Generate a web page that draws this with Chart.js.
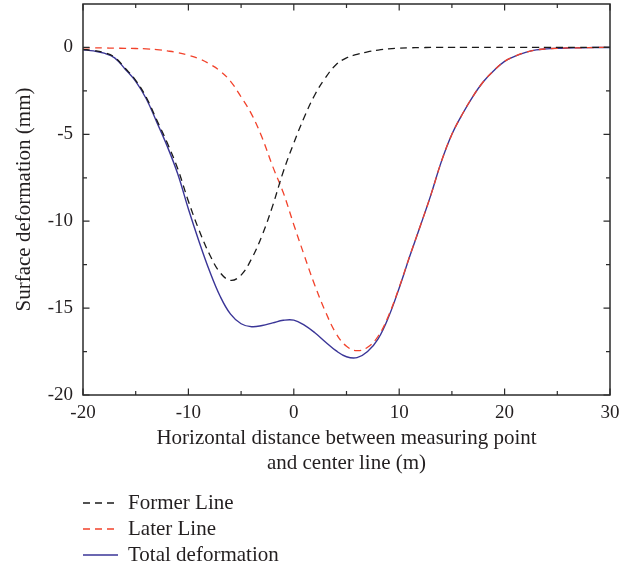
<!DOCTYPE html>
<html><head><meta charset="utf-8">
<script src="https://cdn.jsdelivr.net/npm/chart.js@4"></script>
<style>html,body{margin:0;padding:0;background:#fff}#wrap{width:634px;height:571px}</style>
</head><body><div id="wrap"><canvas id="c" width="634" height="571"></canvas></div>
<script>
const xValues = [-20,-19,-18,-17,-16,-15,-14,-13,-12,-11,-10,-9,-8,-7,-6,-5,-4,-3,-2,-1,0,1,2,3,4,5,6,7,8,9,10,11,12,13,14,15,16,17,18,19,20,21,22,23,24,25,26,27,28,29,30];
const formerLine = [-0.11,-0.18,-0.30,-0.56,-1.2,-1.89,-2.87,-4.18,-5.5,-7.0,-8.85,-10.5,-11.9,-12.95,-13.4,-13.1,-12.15,-10.8,-9.1,-7.15,-5.5,-4.0,-2.72,-1.75,-1.0,-0.6,-0.4,-0.25,-0.15,-0.08,-0.04,-0.02,-0.01,0,0,0,0,0,0,0,0,0,0,0,0,0,0,0,0,0,0];
const laterLine = [-0.02,-0.02,-0.03,-0.04,-0.05,-0.06,-0.08,-0.12,-0.2,-0.3,-0.45,-0.65,-0.95,-1.35,-1.95,-2.85,-3.85,-5.2,-6.85,-8.35,-10.2,-11.98,-13.7,-15.2,-16.45,-17.2,-17.45,-17.25,-16.62,-15.42,-13.8,-12.0,-10.27,-8.5,-6.57,-5.0,-3.83,-2.81,-1.96,-1.32,-0.8,-0.5,-0.28,-0.14,-0.08,-0.05,-0.03,-0.02,-0.01,0,0];
const totalDeformation = [-0.13,-0.2,-0.33,-0.6,-1.25,-1.95,-2.95,-4.3,-5.7,-7.3,-9.3,-11.15,-12.85,-14.3,-15.35,-15.9,-16.07,-16.0,-15.85,-15.7,-15.69,-15.98,-16.42,-16.95,-17.45,-17.8,-17.85,-17.5,-16.77,-15.5,-13.84,-12.02,-10.28,-8.5,-6.57,-5.0,-3.83,-2.81,-1.96,-1.32,-0.8,-0.5,-0.28,-0.14,-0.08,-0.05,-0.03,-0.02,-0.01,0,0];
const seriesNames = ['Former Line','Later Line','Total deformation'];
const xTickLabels = [-20,-10,0,10,20,30];
const xMinorTicks = [-15,-5,5,15,25];
const yTickLabels = [-20,-15,-10,-5,0];
const yMinorTicks = [-17.5,-12.5,-7.5,-2.5];
const xTitle = ['Horizontal distance between measuring point','and center line (m)'];
const yTitle = 'Surface deformation (mm)';

const FONT = '"Liberation Serif", "Times New Roman", serif';
const TXT = '#231f20';
const AX = '#2b2b2b';
const pts = arr => xValues.map((x,i)=>({x:x,y:arr[i]}));

const framePlugin = {
  id:'frame',
  afterDraw(chart){
    const {ctx, chartArea:a, scales:{x, y}} = chart;
    ctx.save();
    ctx.strokeStyle = AX; ctx.lineWidth = 1.5; ctx.setLineDash([]);
    ctx.strokeRect(a.left, a.top, a.right-a.left, a.bottom-a.top);
    ctx.lineWidth = 1.2;
    const tick = (vals, len) => {
      vals.forEach(v=>{
        const px = x.getPixelForValue(v);
        ctx.beginPath(); ctx.moveTo(px,a.bottom); ctx.lineTo(px,a.bottom-len);
        ctx.moveTo(px,a.top); ctx.lineTo(px,a.top+len); ctx.stroke();
      });
    };
    const tickY = (vals, len) => {
      vals.forEach(v=>{
        const py = y.getPixelForValue(v);
        ctx.beginPath(); ctx.moveTo(a.left,py); ctx.lineTo(a.left+len,py);
        ctx.moveTo(a.right,py); ctx.lineTo(a.right-len,py); ctx.stroke();
      });
    };
    tick(xTickLabels,6.5); tick(xMinorTicks,4);
    tickY(yTickLabels,6.5); tickY(yMinorTicks,4);
    // legend
    ctx.font = '21px ' + FONT; ctx.fillStyle = TXT; ctx.textBaseline = 'middle'; ctx.textAlign='left';
    chart.data.datasets.forEach((ds,i)=>{
      const ly = a.bottom + 108 + i*26;
      ctx.strokeStyle = ds.borderColor; ctx.lineWidth = ds.borderWidth;
      ctx.setLineDash(ds.borderDash || []);
      ctx.beginPath(); ctx.moveTo(a.left, ly); ctx.lineTo(a.left+35, ly); ctx.stroke();
      ctx.setLineDash([]);
      ctx.fillText(ds.label, a.left+45, ly);
    });
    ctx.restore();
  }
};

new Chart(document.getElementById('c'), {
  type:'line',
  data:{datasets:[
    {label:seriesNames[0], data:pts(formerLine), borderColor:'#1a1a1a', borderWidth:1.3, borderDash:[7,5], pointRadius:0, tension:0.4, fill:false},
    {label:seriesNames[1], data:pts(laterLine), borderColor:'#f2422b', borderWidth:1.3, borderDash:[7,5], pointRadius:0, tension:0.4, fill:false},
    {label:seriesNames[2], data:pts(totalDeformation), borderColor:'#3a3597', borderWidth:1.4, pointRadius:0, tension:0.4, fill:false}
  ]},
  options:{
    responsive:false, animation:false, devicePixelRatio:1,
    layout:{padding:{left:0, top:4, right:24, bottom:0}},
    plugins:{legend:{display:false}, tooltip:{enabled:false}},
    scales:{
      x:{type:'linear', min:-20, max:30,
        afterBuildTicks:s=>{s.ticks = xTickLabels.map(v=>({value:v}));},
        afterFit:s=>{s.height = 176; s.paddingLeft = 0; s.paddingRight = 0;},
        grid:{display:false, drawTicks:false}, border:{display:false},
        ticks:{font:{family:FONT,size:19}, color:TXT, padding:7, maxRotation:0, autoSkip:false},
        title:{display:true, text:xTitle, font:{family:FONT,size:21,lineHeight:1.19}, color:TXT, padding:{top:0,bottom:95.5}}
      },
      y:{type:'linear', min:-20, max:2.5,
        afterBuildTicks:s=>{s.ticks = yTickLabels.map(v=>({value:v}));},
        afterFit:s=>{s.width = 83; s.paddingTop = 0; s.paddingBottom = 0;},
        grid:{display:false, drawTicks:false}, border:{display:false},
        ticks:{font:{family:FONT,size:19}, color:TXT, padding:10, autoSkip:false},
        title:{display:true, text:yTitle, font:{family:FONT,size:21,lineHeight:1.2}, color:TXT, padding:{top:12,bottom:0}}
      }
    }
  },
  plugins:[framePlugin]
});
</script></body></html>
